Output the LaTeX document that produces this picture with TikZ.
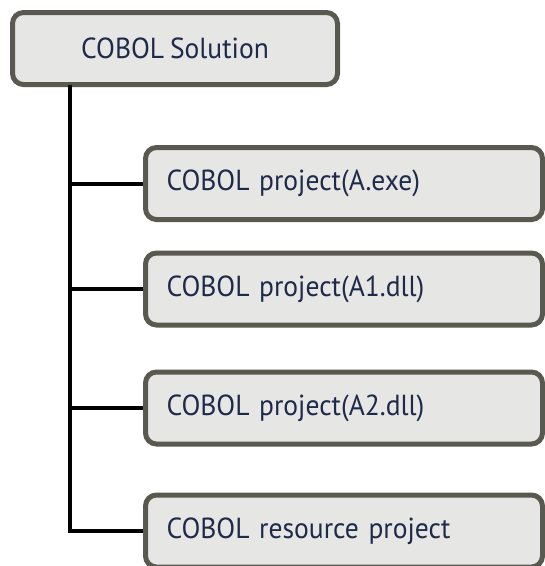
\documentclass[tikz,border=0pt]{standalone}
\usepackage{fontspec}
\newfontfamily\boxfont[FakeStretch=0.95,WordSpace=0.8]{PT Sans}
\definecolor{boxfill}{HTML}{E6E6E4}
\definecolor{boxline}{HTML}{595950}
\definecolor{txt}{HTML}{1F2A4A}
\begin{document}
\begin{tikzpicture}[x=1pt,y=-1pt,
  box/.style={draw=boxline, fill=boxfill, line width=5pt, rounded corners=11pt,
    minimum height=72pt, inner sep=0pt, font=\boxfont\fontsize{29}{34}\selectfont, text=txt},
  child/.style={box, minimum width=397pt, text width=355pt, align=left},
  conn/.style={line width=4pt, black}]
\useasboundingbox (0,0) rectangle (545,566);
\node[box, minimum width=325pt] (sol) at (175,48.5) {COBOL Solution};
\node[child] (p1) at (344,183.5) {COBOL project(A.exe)};
\node[child] (p2) at (344,289) {COBOL project(A1.dll)};
\node[child] (p3) at (344,408) {COBOL project(A2.dll)};
\node[child] (p4) at (344,531) {COBOL resource project};
\coordinate (top) at (70,84.5);
\draw[conn] (top) |- (p4.west);
\draw[conn] (70,183.5) -- (p1.west);
\draw[conn] (70,289) -- (p2.west);
\draw[conn] (70,408) -- (p3.west);
\end{tikzpicture}
\end{document}
